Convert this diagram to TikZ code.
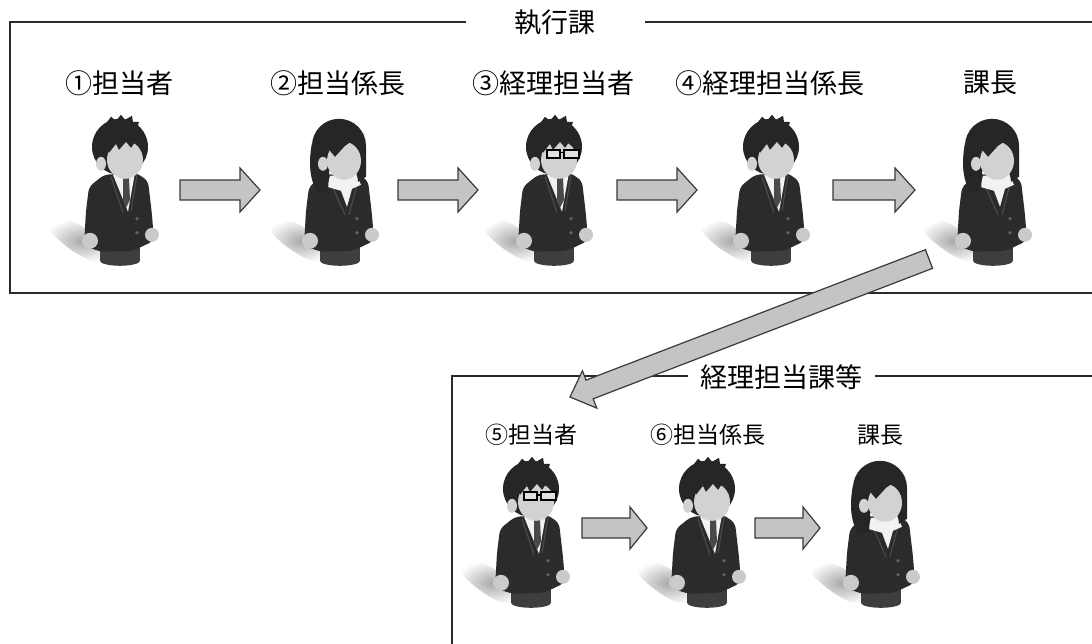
\documentclass[tikz,border=0pt]{standalone}
\usepackage{fontspec}
\newfontfamily\jp{Noto Sans CJK JP}
\usetikzlibrary{calc}

\definecolor{hairc}{HTML}{262626}
\definecolor{facec}{HTML}{D2D2D2}
\definecolor{suitc}{HTML}{2B2B2B}
\definecolor{tiec}{HTML}{4A4A4A}
\definecolor{lapelc}{HTML}{4E4E4E}
\definecolor{basec}{HTML}{3E3E3E}
\definecolor{handc}{HTML}{CACACA}
\definecolor{shirtc}{HTML}{F2F2F2}
\definecolor{arrowfill}{HTML}{C4C4C4}
\definecolor{arrowline}{HTML}{3A3A3A}
\definecolor{framec}{HTML}{2A2A2A}

% block arrow from coordinate #1 to coordinate #2
% #3 half shaft width, #4 half head width, #5 head length
\newcommand\blockarrow[5]{%
  \coordinate (ba-neck) at ($(#2)!#5!(#1)$);
  \draw[blockarrow] ($(#1)!#3!90:(#2)$) -- ($(ba-neck)!#3!90:(#2)$)
    -- ($(ba-neck)!#4!90:(#2)$) -- (#2) -- ($(ba-neck)!#4!-90:(#2)$)
    -- ($(ba-neck)!#3!-90:(#2)$) -- ($(#1)!#3!-90:(#2)$) -- cycle;
}

\tikzset{
  frame/.style={draw=framec, line width=2.3pt},
  boxtitle/.style={fill=white, inner sep=0pt, font=\jp\fontsize{27}{30}\selectfont},
  lbl/.style={inner sep=0pt, font=\jp\fontsize{27}{30}\selectfont},
  lblsmall/.style={inner sep=0pt, font=\jp\fontsize{23}{26}\selectfont},
  personbox/.style={inner sep=0pt, minimum width=70pt, minimum height=150pt},
  personboxsmall/.style={inner sep=0pt, minimum width=67pt, minimum height=144pt},
  blockarrow/.style={fill=arrowfill, draw=arrowline, line width=1.2pt, line join=miter},
  % soft floor shadow, body, heads
  pics/floorshadow/.style={code={
    \begin{scope}[shift={(-38,126)}, rotate=-33]
      \shade[inner color=black!34, outer color=white] (0,0) ellipse (40 and 13);
    \end{scope}}},
  pics/legs/.style={code={
    \fill[basec] (-19,124) rectangle (21,146);
    \fill[basec] (1,146) ellipse (20 and 5);}},
  pics/jacket/.style={code={
    \fill[suitc, rounded corners=5pt] (-15,60) -- (17,58) -- (29,66) -- (33,100)
      -- (35,126) -- (14,136) -- (-18,137) -- (-35,131) -- (-33,96) -- (-30,72) -- cycle;
    \fill[black!62] (18,104) circle (1.9);
    \fill[black!62] (18,118) circle (1.9);
    \fill[handc] (-29,126) circle (8);
    \fill[handc] (33,120) circle (7);}},
  pics/shirttie/.style={code={
    \fill[shirtc] (-6,60) -- (16,58) -- (9,97) -- cycle;
    \draw[lapelc, line width=1pt] (-8,62) -- (4,98);
    \draw[lapelc, line width=1pt] (18,60) -- (12,96);
    \fill[tiec] (4,63) -- (10,63) -- (11,85) -- (7,93) -- (4,85) -- cycle;}},
  pics/blouse/.style={code={
    \draw[lapelc, line width=1pt] (-10,64) -- (6,100);
    \draw[lapelc, line width=1pt] (20,62) -- (10,100);
    \fill[shirtc] (-9,61) -- (17,59) -- (22,70) -- (13,74) -- (8,92) -- (2,76)
      -- (-12,72) -- cycle;}},
  pics/manhead/.style={code={
    \fill[hairc] (1,32) ellipse (28 and 28);
    \fill[hairc] (-14,10) -- (-8,2) -- (-3,6) -- (2,0) -- (6,5) -- (13,1)
      -- (14,7) -- (20,7) -- (18,14) -- cycle;
    \fill[facec] (-18,49) ellipse (5 and 7);
    \fill[facec] (6,45) ellipse (18 and 19);
    \fill[hairc] (-12,20) -- (26,20) -- (24,29) -- (17,26) -- (12,33) -- (7,27)
      -- (0,35) -- (-3,29) -- (-10,38) -- cycle;}},
  pics/womanhead/.style={code={
    \fill[hairc] (-27,28) .. controls (-31,50) and (-29,66) .. (-21,78)
      -- (-11,75) -- (-9,45) -- cycle;
    \fill[hairc] (27,32) -- (27,62) -- (19,67) -- (16,40) -- cycle;
    \fill[hairc] (0,31) ellipse (27 and 27);
    \fill[facec] (-16,49) ellipse (5 and 7);
    \fill[facec] (5,46) ellipse (17 and 19);
    \fill[hairc] (-13,20) -- (24,18) -- (25,28) -- (15,25) -- (6,31) -- (-4,42)
      -- (-9,36) -- cycle;}},
  pics/glasses/.style={code={
    \draw[black, line width=1.6pt, fill=white!88!black] (-6,35) rectangle (7,43);
    \draw[black, line width=1.6pt, fill=white!88!black] (11,35) rectangle (26,43);
    \draw[black, line width=1.4pt] (7,38) -- (11,38);}},
  pics/man/.style={code={
    \pic {floorshadow}; \pic {legs}; \pic {jacket}; \pic {shirttie}; \pic {manhead};}},
  pics/woman/.style={code={
    \pic {floorshadow}; \pic {legs}; \pic {jacket}; \pic {blouse}; \pic {womanhead};}},
  pics/specman/.style={code={
    \pic {floorshadow}; \pic {legs}; \pic {jacket}; \pic {shirttie}; \pic {manhead}; \pic {glasses};}},
}

\begin{document}
\begin{tikzpicture}[x=1pt, y=-1pt]
  \clip (0,0) rectangle (1092,644);
  \fill[white] (0,0) rectangle (1092,644);

  % frames with their titles
  \draw[frame] (1110,22) -- (10,22) -- (10,293) -- (1110,293);
  \node[boxtitle, minimum width=179pt, minimum height=30pt] (t1) at (555,22) {執行課};
  \draw[frame] (1110,376) -- (452,376) -- (452,660);
  \node[boxtitle, minimum width=187pt, minimum height=30pt] (t2) at (781,377) {経理担当課等};

  % staff of the executing section
  \node[personbox] (p1) at (119,190) {};
  \node[personbox] (p2) at (339,190) {};
  \node[personbox] (p3) at (553,190) {};
  \node[personbox] (p4) at (770,190) {};
  \node[personbox] (p5) at (992,190) {};
  \pic at (p1.north) {man};
  \pic at (p2.north) {woman};
  \pic at (p3.north) {specman};
  \pic at (p4.north) {man};
  \pic at (p5.north) {woman};

  \node[lbl] (l1) at (119,83) {①担当者};
  \node[lbl] (l2) at (338,83) {②担当係長};
  \node[lbl] (l3) at (553,83) {③経理担当者};
  \node[lbl] (l4) at (770,83) {④経理担当係長};
  \node[lbl] (l5) at (990,83) {課長};

  % staff of the accounting section
  \node[personboxsmall] (p6) at (530,529) {};
  \node[personboxsmall] (p7) at (706,529) {};
  \node[personboxsmall] (p8) at (880,529) {};
  \pic[scale=0.96] at (p6.north) {specman};
  \pic[scale=0.96] at (p7.north) {man};
  \pic[scale=0.96] at (p8.north) {woman};

  \node[lblsmall] (l6) at (531,435) {⑤担当者};
  \node[lblsmall] (l7) at (708,435) {⑥担当係長};
  \node[lblsmall] (l8) at (880,435) {課長};

  % hand-over arrows
  \coordinate (a1s) at (180,190); \coordinate (a1e) at (260,190);
  \coordinate (a2s) at (398,190); \coordinate (a2e) at (478,190);
  \coordinate (a3s) at (617,190); \coordinate (a3e) at (697,190);
  \coordinate (a4s) at (833,190); \coordinate (a4e) at (915,190);
  \coordinate (a5s) at (929,259); \coordinate (a5e) at (570,397);
  \coordinate (a6s) at (582,528); \coordinate (a6e) at (647,528);
  \coordinate (a7s) at (755,528); \coordinate (a7e) at (820,528);

  \blockarrow{a1s}{a1e}{10pt}{22pt}{20pt}
  \blockarrow{a2s}{a2e}{10pt}{22pt}{20pt}
  \blockarrow{a3s}{a3e}{10pt}{22pt}{20pt}
  \blockarrow{a4s}{a4e}{10pt}{22pt}{20pt}
  \blockarrow{a5s}{a5e}{10pt}{20pt}{21pt}
  \blockarrow{a6s}{a6e}{10pt}{21pt}{17pt}
  \blockarrow{a7s}{a7e}{10pt}{21pt}{17pt}
\end{tikzpicture}
\end{document}
